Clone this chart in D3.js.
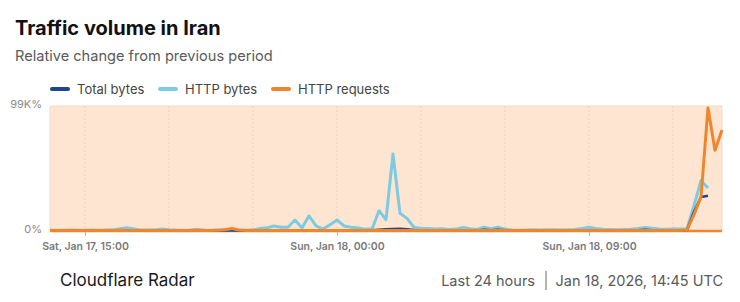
<!DOCTYPE html>
<html>
<head>
<meta charset="utf-8">
<script src="https://cdn.jsdelivr.net/npm/d3@7"></script>
<style>
  body { margin: 0; background: #fff; font-family: Inter, "Noto Sans", sans-serif; }
  svg { display: block; }
</style>
</head>
<body>
<svg id="chart" width="740" height="302"></svg>
<script>
// values in thousands of percent (K%), one point every 15 minutes
var startTime = Date.UTC(2026, 0, 17, 13, 45);
var stepMinutes = 15;

var totalBytes = [
  0.3,0.3,0.4,0.3,0.3,0.4,0.3,0.3,0.4,0.4,
  0.5,0.6,0.5,0.4,0.3,0.3,0.5,0.4,0.3,0.3,
  0.3,0.4,0.3,0.3,0.3,0.4,0.5,0.3,0.3,0.3,
  0.4,0.4,0.5,0.4,0.5,0.6,0.4,0.6,0.5,0.4,
  0.5,0.6,0.5,0.4,0.4,0.4,0.5,0.9,1.3,1.6,
  1.8,1.4,0.8,0.6,0.5,0.4,0.4,0.4,0.4,0.6,
  0.5,0.4,0.9,0.5,1.0,0.5,0.4,0.3,0.3,0.3,
  0.3,0.3,0.3,0.3,0.3,0.4,0.5,0.6,0.5,0.4,
  0.4,0.3,0.4,0.4,0.5,0.9,0.6,0.5,0.4,0.4,
  0.4,0.8,15,27,28,null,null
];

var httpBytes = [
  0.5,0.6,0.5,0.7,0.6,0.5,0.8,0.6,0.7,0.9,
  1.8,2.5,1.6,0.8,0.7,0.9,1.6,1.0,0.7,0.6,
  0.8,1.2,0.7,0.6,0.8,0.9,0.6,0.5,0.6,0.9,
  2.0,2.5,4.0,3.0,3.0,8.7,2.4,12.0,4.0,1.5,
  5.0,8.7,4.0,3.0,2.4,1.5,1.5,16.0,9.0,61.0,
  14.0,10.0,3.0,2.0,2.0,1.5,1.8,1.2,1.5,2.8,
  1.8,1.2,3.0,1.8,3.0,1.5,0.8,0.6,0.7,0.9,
  0.8,1.0,0.9,0.8,1.0,1.2,2.0,3.0,2.0,1.4,
  1.2,1.0,1.2,1.4,2.0,2.8,2.2,1.5,1.4,1.5,
  1.5,1.8,20,40,34,null,null
];

var httpRequests = [
  0.3,0.4,0.3,0.3,0.4,0.3,0.4,0.3,0.3,0.4,
  0.5,0.4,0.3,0.3,0.4,0.4,0.3,0.3,0.4,0.3,
  0.4,0.5,0.4,0.3,0.5,1.0,2.0,0.8,0.4,0.3,
  0.4,0.3,0.3,0.4,0.3,0.3,0.4,0.3,0.3,0.4,
  0.3,0.3,0.4,0.3,0.3,0.4,0.3,0.3,0.4,0.3,
  0.3,0.4,0.3,0.3,0.4,0.3,0.4,0.3,0.3,0.4,
  0.3,0.3,0.4,0.3,0.3,0.4,0.3,0.3,0.4,0.3,
  0.3,0.4,0.3,0.3,0.4,0.3,0.4,0.3,0.3,0.4,
  0.3,0.3,0.4,0.3,0.3,0.4,0.3,0.3,0.4,0.3,
  0.4,0.8,13,27,97.5,64,80
];

var seriesNames = ["Total bytes", "HTTP bytes", "HTTP requests"];
var seriesColors = ["#1d4591", "#7ccbe2", "#f0862c"];
var yTicks = [0, 99];
var xLabelHours = [Date.UTC(2026,0,17,15), Date.UTC(2026,0,18,0), Date.UTC(2026,0,18,9)];

var svg = d3.select("#chart");

//
//**   Title   **/
//

svg.append("text")
    .attr("x", 15).attr("y", 35)
    .style("font-size", "20px").style("font-weight", 700)
    .style("fill", "#111")
    .text("Traffic volume in Iran");

svg.append("text")
    .attr("x", 15).attr("y", 61)
    .style("font-size", "14.6px")
    .style("fill", "#5a5a5a")
    .text("Relative change from previous period");

//
//**   Legend   **/
//

var legendX = [51, 159, 272];
seriesNames.forEach(function (name, k) {
    svg.append("line")
        .attr("x1", legendX[k] + 1).attr("x2", legendX[k] + 17)
        .attr("y1", 89).attr("y2", 89)
        .style("stroke", seriesColors[k])
        .style("stroke-width", 4)
        .style("stroke-linecap", "round");
    svg.append("text")
        .attr("x", legendX[k] + 26).attr("y", 93.5)
        .style("font-size", "13px")
        .style("fill", "#444")
        .text(name);
});

//
//**   Osie   **/
//

var plotL = 50, plotR = 722, plotT = 106, plotB = 231;
var dates = httpBytes.map(function (d, i) { return new Date(startTime + i * stepMinutes * 60000); });

var x = d3.scaleUtc()
    .domain([dates[0], dates[dates.length - 1]])
    .range([plotL, plotR]);

var y = d3.scaleLinear()
    .domain([0, 99])
    .range([plotB, plotT]);

svg.append("rect")
    .attr("x", plotL).attr("y", plotT)
    .attr("width", plotR - plotL).attr("height", plotB - plotT)
    .style("fill", "#fde5d1")
    .style("stroke", "#f3dccb")
    .style("stroke-width", 1);

var gridTimes = d3.utcHour.every(3).range(dates[0], dates[dates.length - 1]);
svg.append("g").selectAll("line").data(gridTimes).enter()
  .append("line")
    .attr("x1", function (d) { return x(d); })
    .attr("x2", function (d) { return x(d); })
    .attr("y1", plotT).attr("y2", plotB)
    .style("stroke", "#e9d3c2")
    .style("stroke-width", 1)
    .style("stroke-dasharray", "2,2");

var yAxis = d3.axisLeft(y)
    .tickValues(yTicks)
    .tickSize(0)
    .tickPadding(8)
    .tickFormat(function (d) { return d === 0 ? "0%" : d + "K%"; });

var gY = svg.append("g")
    .attr("transform", "translate(" + plotL + ",0)")
    .call(yAxis);
gY.select(".domain").remove();
gY.selectAll("text")
    .style("font-family", "Inter, sans-serif")
    .style("font-size", "11px")
    .style("fill", "#8a8a8a")
    .attr("dy", "0.1em");

var xAxis = d3.axisBottom(x)
    .tickValues(xLabelHours.map(function (t) { return new Date(t); }))
    .tickSize(5)
    .tickPadding(7)
    .tickFormat(d3.utcFormat("%a, %b %d, %H:%M"));

var gX = svg.append("g")
    .attr("transform", "translate(0," + plotB + ")")
    .call(xAxis);
gX.select(".domain").remove();
gX.selectAll("line").style("stroke", "#bbb");
gX.selectAll("text")
    .style("font-family", "Inter, sans-serif")
    .style("font-size", "10.5px")
    .style("font-weight", 600)
    .style("fill", "#7a7a7a");

//
//**   Wykres   **/
//

// baseline under the series
svg.append("line")
    .attr("x1", plotL).attr("x2", plotR)
    .attr("y1", y(0)).attr("y2", y(0))
    .style("stroke", "#f0862c")
    .style("stroke-width", 2.5);

var line = d3.line()
    .defined(function (d) { return d.v !== null; })
    .x(function (d) { return x(d.t); })
    .y(function (d) { return y(d.v); });

[httpBytes, totalBytes, httpRequests].forEach(function (values, k) {
    var idx = [1, 0, 2][k];
    svg.append("path")
        .datum(values.map(function (v, i) { return { t: dates[i], v: v }; }))
        .attr("d", line)
        .style("fill", "none")
        .style("stroke", seriesColors[idx])
        .style("stroke-width", idx === 0 ? 2.5 : 3)
        .style("stroke-linejoin", "round");
});

//
//**   Stopka   **/
//

svg.append("text")
    .attr("x", 60).attr("y", 286)
    .style("font-size", "17px")
    .style("fill", "#1a1a1a")
    .text("Cloudflare Radar");

svg.append("text")
    .attr("x", 535).attr("y", 286)
    .style("font-size", "14.5px")
    .style("fill", "#5a5a5a")
    .style("text-anchor", "end")
    .text("Last 24 hours");

svg.append("line")
    .attr("x1", 546).attr("x2", 546)
    .attr("y1", 271).attr("y2", 290)
    .style("stroke", "#666")
    .style("stroke-width", 1);

svg.append("text")
    .attr("x", 723).attr("y", 286)
    .style("font-size", "14.5px")
    .style("fill", "#5a5a5a")
    .style("text-anchor", "end")
    .text("Jan 18, 2026, 14:45 UTC");
</script>
</body>
</html>
